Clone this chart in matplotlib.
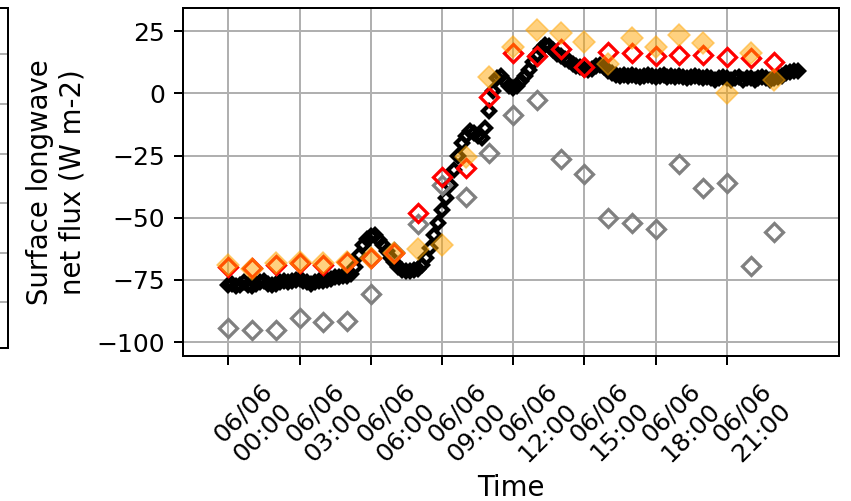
import numpy as np
import matplotlib
matplotlib.use("Agg")
import matplotlib.pyplot as plt
import matplotlib.transforms as mtransforms

# hourly model output (hours after 06/06 00:00)
hours = list(range(24))
red_flux = [-69.7, -70.3, -69.0, -68.3, -69.0, -67.7, -66.3, -64.0, -48.0, -33.5,
            -30.1, -1.4, 16.1, 15.0, 17.7, 10.7, 16.7, 16.1, 15.0, 15.4,
            15.5, 14.7, 14.1, 12.7]
gray_flux = [-94.5, -95.0, -95.1, -90.4, -91.8, -91.6, -80.5, -63.7, -52.6, -36.9,
             -41.6, -24.1, -8.7, -2.7, -26.5, -32.4, -50.2, -52.3, -54.7, -28.4,
             -38.0, -35.9, -69.3, -55.9]
orange_flux = [-69.0, -70.5, -68.3, -67.7, -68.3, -67.7, -66.3, -64.0, -62.7, -61.0,
               -25.5, 6.7, 18.7, 25.4, 24.1, 20.7, 11.8, 22.1, 18.7, 23.6,
               20.4, 0.0, 16.4, 5.5]

# observations, 10-minute values from 00:00 to 24:00
obs_flux = [
    -77, -76.5, -77.5, -77, -76, -77,
    -77.5, -76.5, -76, -75.5, -76.5, -77,
    -76.5, -76, -75.5, -76, -75.5, -75,
    -74.5, -75.5, -76, -76.5, -76, -75.5,
    -75.5, -75, -74.5, -74, -74, -73.5,
    -73.5, -72.5, -70, -65, -61, -58.5,
    -57.5, -57, -59, -61, -63.5, -66,
    -68, -70, -71, -71.5, -71.5, -71,
    -70.5, -69, -66, -62, -57, -52,
    -47, -42, -37, -31, -25, -20,
    -17, -15, -16, -17, -18, -14,
    -7, 1, 6, 7, 5, 3,
    2, 3, 5, 7, 9.5, 12.5,
    15.5, 18, 19.5, 19, 17.5, 16,
    15, 14, 13, 12, 11, 10.5,
    10, 9.5, 10, 11, 11.5, 10.5,
    9, 8, 7.5, 7, 7.5, 7,
    7.5, 7, 6.5, 7, 7.5, 7,
    6.5, 7, 7.5, 6.5, 7, 6.5,
    7, 6.5, 6, 6.5, 7, 6.5,
    6, 6.5, 6, 5.5, 6, 6.5,
    6, 5.5, 6, 6.5, 5.5, 6,
    6, 5.5, 6, 6.5, 6, 5.5,
    6, 6.5, 7, 8, 8.5, 9,
    9,
]
obs_hours = np.arange(len(obs_flux)) / 6.0

tick_hours = [0, 3, 6, 9, 12, 15, 18, 21]
tick_labels = ["06/06\n00:00", "06/06\n03:00", "06/06\n06:00", "06/06\n09:00",
               "06/06\n12:00", "06/06\n15:00", "06/06\n18:00", "06/06\n21:00"]
y_ticks = [-100, -75, -50, -25, 0, 25]

DPI = 180
fig = plt.figure(figsize=(851 / DPI, 501 / DPI), dpi=DPI)

# edge of the neighbouring panel, mostly outside the canvas
ax0 = fig.add_axes([-0.5, 0.3044, 0.5094, 0.679])
ax0.set_ylim(-0.935, 5.93)
ax0.set_yticks(range(6))
ax0.set_xticks([])
ax0.tick_params(left=False, labelleft=False)
ax0.grid(True)

ax = fig.add_axes([0.2147, 0.2894, 0.7716, 0.694])
ax.plot(obs_hours, obs_flux, ls="none", marker="D", ms=3.4,
        mfc="none", mec="black", mew=1.7)
ax.plot(hours, gray_flux, ls="none", marker="D", ms=5.3,
        mfc="none", mec="gray", mew=1.3)
ax.plot(hours, red_flux, ls="none", marker="D", ms=5.3,
        mfc="none", mec="red", mew=1.3)
ax.plot(hours, orange_flux, ls="none", marker="D", ms=6.2,
        color="orange", mew=0.6, alpha=0.5)

ax.set_xlim(-1.92, 25.74)
ax.set_ylim(-105.6, 34.2)
ax.set_yticks(y_ticks)
ax.set_xticks(tick_hours)
ax.set_xticklabels(tick_labels, rotation=45)
ax.tick_params(labelsize=10)
ax.grid(True)
ax.set_xlabel("Time", fontsize=11, labelpad=3)
ax.set_ylabel("Surface longwave\nnet flux (W m-2)", fontsize=11)

# labels sit a little right of their ticks in the original
offset = mtransforms.ScaledTranslation(25 / DPI, -5 / DPI, fig.dpi_scale_trans)
for lab in ax.get_xticklabels():
    lab.set_transform(lab.get_transform() + offset)

fig.savefig("out.png", dpi=DPI)
